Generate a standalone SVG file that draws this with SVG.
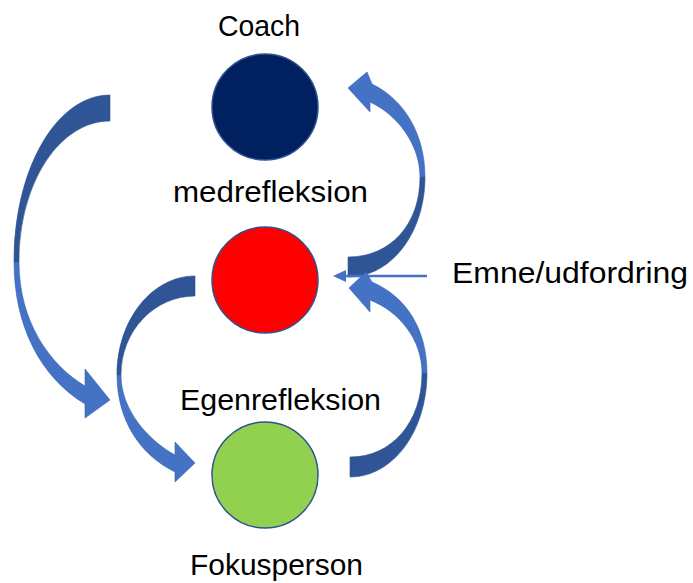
<svg xmlns="http://www.w3.org/2000/svg" width="693" height="583" viewBox="0 0 693 583">
<style>
.lbl{font-family:"Liberation Sans",Arial,sans-serif;font-size:29px;fill:#000}
.dk{fill:#2F5597;stroke:#2F528F;stroke-width:0.6}
.lt{fill:#4472C4;stroke:#3B64AD;stroke-width:0.6}
.node{stroke:#2F528F;stroke-width:1.5}
</style>
<rect width="693" height="583" fill="#fff"/>
<g id="connectors">
  <g id="arrow-coach-to-fokus">
    <path class="dk" d="M110,95 C57,95 14,168 14,262 L19,262 C19,182 60,121 110,121 Z"/>
    <path class="lt" d="M14,262 C14,325 40,377 85,404 L85,418 L110,400 L85,369 L85,386 C50,365 19,322 19,262 Z"/>
  </g>
  <g id="arrow-red-to-green">
    <path class="dk" d="M195,276 C152,276 117,320 117,375 L121,375 C121,330 155,296 195,296 Z"/>
    <path class="lt" d="M117,375 C117,420 140,455 175,472 L175,482 L195,463 L175,442 L175,455 C148,440 121,410 121,375 Z"/>
  </g>
  <g id="arrow-red-to-coach">
    <path class="dk" d="M348,277 C392,277 425,232 425,177 L420,177 C420,225 390,257 348,257 Z"/>
    <path class="lt" d="M425,177 C425,135 405,100 372,84 L367,72 L348,88 L370,112 L370,102 C398,115 420,145 420,177 Z"/>
  </g>
  <g id="arrow-green-to-red">
    <path class="dk" d="M350,477 C394,477 427,430 427,373 L422,373 C422,422 392,457 350,457 Z"/>
    <path class="lt" d="M427,373 C427,330 407,297 372,282 L366,272 L349,288 L370,312 L370,300 C400,312 422,340 422,373 Z"/>
  </g>
  <g id="arrow-emne">
    <line x1="427" y1="276" x2="343" y2="276" stroke="#4472C4" stroke-width="2.5"/>
    <polygon points="333,276 346,270 346,282" fill="#4472C4"/>
  </g>
</g>
<g id="node-coach">
  <circle class="node" cx="265" cy="107" r="53" fill="#002060"/>
  <text class="lbl" x="218" y="36" textLength="82" lengthAdjust="spacingAndGlyphs">Coach</text>
</g>
<g id="node-medrefleksion">
  <circle class="node" cx="265" cy="280" r="53" fill="#FF0000"/>
  <text class="lbl" x="173" y="202" textLength="195" lengthAdjust="spacingAndGlyphs">medrefleksion</text>
</g>
<g id="node-fokusperson">
  <circle class="node" cx="265" cy="475" r="53" fill="#92D050"/>
  <text class="lbl" x="180" y="410" textLength="201" lengthAdjust="spacingAndGlyphs">Egenrefleksion</text>
  <text class="lbl" x="190" y="575" textLength="173" lengthAdjust="spacingAndGlyphs">Fokusperson</text>
</g>
<g id="node-emne">
  <text class="lbl" x="452" y="283" textLength="236" lengthAdjust="spacingAndGlyphs">Emne/udfordring</text>
</g>
</svg>
